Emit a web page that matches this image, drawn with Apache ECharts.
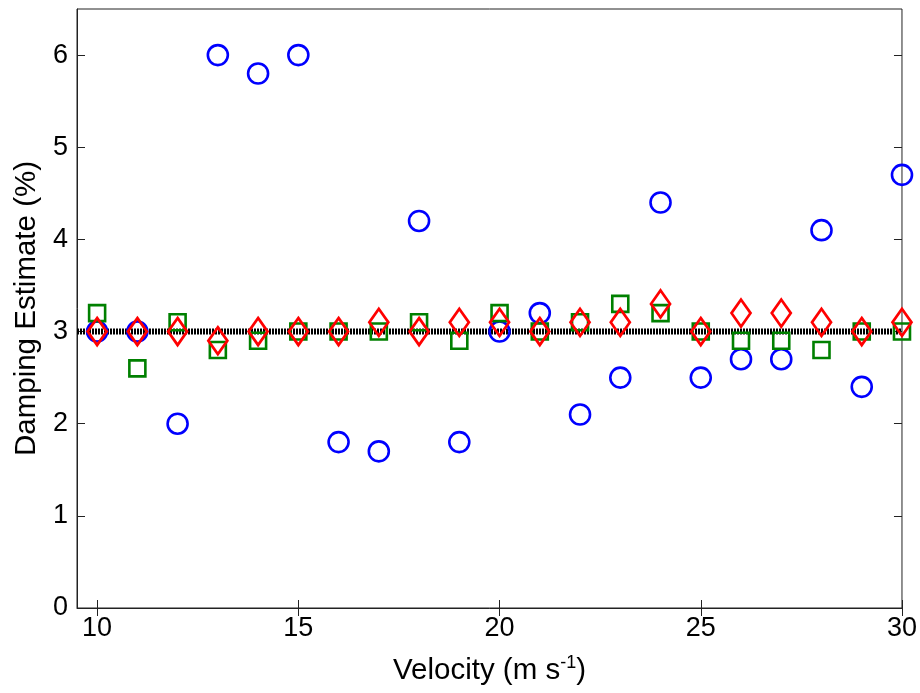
<!DOCTYPE html>
<html><head><meta charset="utf-8">
<script src="https://cdn.jsdelivr.net/npm/echarts@6/dist/echarts.min.js"></script>
<style>html,body{margin:0;padding:0;background:#fff}#c{width:920px;height:693px}</style>
</head><body><div id="c"></div>
<script>
const velocities = [10,11,12,13,14,15,16,17,18,19,20,21,22,23,24,25,26,27,28,29,30];
const circleVals = [3.0,3.0,2.0,6.0,5.8,6.0,1.8,1.7,4.2,1.8,3.0,3.2,2.1,2.5,4.4,2.5,2.7,2.7,4.1,2.4,4.7];
const squareVals = [3.2,2.6,3.1,2.8,2.9,3.0,3.0,3.0,3.1,2.9,3.2,3.0,3.1,3.3,3.2,3.0,2.9,2.9,2.8,3.0,3.0];
const diamondVals = [3.0,3.0,3.0,2.9,3.0,3.0,3.0,3.1,3.0,3.1,3.1,3.0,3.1,3.1,3.3,3.0,3.2,3.2,3.1,3.0,3.1];
const trueDamping = 3.0;
const xTicks = [10,15,20,25,30];
const yTicks = [0,1,2,3,4,5,6];

const pair = (xs, ys) => xs.map((x,i)=>[x, ys[i]]);
const font = 'Liberation Sans, Arial, sans-serif';
const chart = echarts.init(document.getElementById('c'), null, {renderer:'canvas'});
const tick = vals => ({show:true, inside:true, length:8, lineStyle:{color:'#222', width:1}, customValues: vals});
chart.setOption({
  animation:false,
  backgroundColor:'#fff',
  grid:{left:77, right:18, top:9, bottom:85, show:true, borderColor:'#222', borderWidth:1, backgroundColor:'transparent'},
  xAxis:[{
    type:'value', min:9.5, max:30,
    axisLine:{show:true, onZero:false, lineStyle:{color:'#222', width:1}},
    splitLine:{show:false},
    axisTick: tick(xTicks),
    axisLabel:{color:'#000', fontSize:27, fontFamily:font, margin:7,
      customValues: xTicks, formatter: v => String(v)},
    name:'Velocity (m s{sup|-1})', nameLocation:'middle', nameGap:46,
    nameTextStyle:{color:'#000', fontSize:29.5, fontFamily:font,
      rich:{sup:{fontSize:18, fontFamily:font, color:'#000', verticalAlign:'top', padding:[0,0,15,0]}}}
  },{
    type:'value', min:9.5, max:30, position:'top',
    axisLine:{show:false}, axisLabel:{show:false}, splitLine:{show:false},
    axisTick: tick(xTicks)
  }],
  yAxis:[{
    type:'value', min:0, max:6.5,
    axisLine:{show:true, onZero:false, lineStyle:{color:'#222', width:1}},
    splitLine:{show:false},
    axisTick: tick(yTicks),
    axisLabel:{color:'#000', fontSize:27, fontFamily:font, margin:9, customValues:yTicks},
    name:'Damping Estimate (%)', nameLocation:'middle', nameGap:35,
    nameTextStyle:{color:'#000', fontSize:29.5, fontFamily:font}
  },{
    type:'value', min:0, max:6.5, position:'right',
    axisLine:{show:false}, axisLabel:{show:false}, splitLine:{show:false},
    axisTick: tick(yTicks)
  }],
  series:[
    {type:'line', data:[[9.5,trueDamping],[30,trueDamping]], symbol:'none', z:1,
     lineStyle:{color:'#000', width:6, type:[2,1]}},
    {type:'scatter', data:pair(velocities,circleVals), symbol:'circle', symbolSize:20, z:2,
     itemStyle:{color:'rgba(0,0,0,0)', borderColor:'#0000ff', borderWidth:2.6, opacity:1}},
    {type:'scatter', data:pair(velocities,squareVals), symbol:'rect', symbolSize:16, z:3,
     itemStyle:{color:'rgba(0,0,0,0)', borderColor:'#008000', borderWidth:2.6, opacity:1}},
    {type:'scatter', data:pair(velocities,diamondVals), symbol:'diamond', symbolSize:[19,27], z:4,
     itemStyle:{color:'rgba(0,0,0,0)', borderColor:'#ff0000', borderWidth:2.8, opacity:1}}
  ]
});
</script></body></html>
